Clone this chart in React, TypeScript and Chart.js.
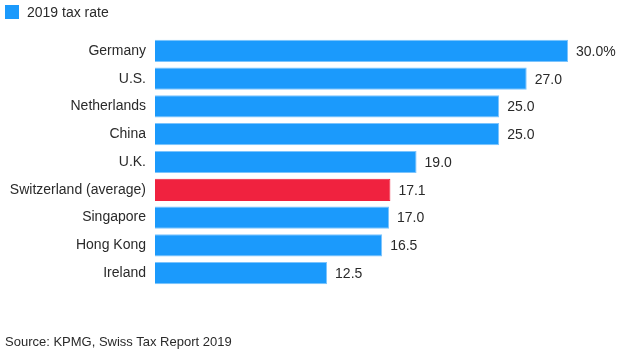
import React, { useEffect, useRef } from "react";
import { Chart, registerables } from "chart.js";

Chart.register(...registerables);

const categories = ["Germany", "U.S.", "Netherlands", "China", "U.K.", "Switzerland (average)", "Singapore", "Hong Kong", "Ireland"];
const taxRates = [30.0, 27.0, 25.0, 25.0, 19.0, 17.1, 17.0, 16.5, 12.5];
const highlighted = "Switzerland (average)";
const seriesName = "2019 tax rate";
const sourceText = "Source: KPMG, Swiss Tax Report 2019";

const BLUE = "#1b9afc";
const BLUE_EDGE = "#7cc4fd";
const RED = "#f0223f";
const FONT = "'Liberation Sans', Arial, sans-serif";

const valueLabels = {
  id: "valueLabels",
  afterDatasetsDraw(chart: any) {
    const ctx = chart.ctx;
    const meta = chart.getDatasetMeta(0);
    ctx.save();
    ctx.font = `14px ${FONT}`;
    ctx.fillStyle = "#2a2a2a";
    ctx.textBaseline = "middle";
    ctx.textAlign = "left";
    meta.data.forEach((bar: any, i: number) => {
      const v = taxRates[i];
      const txt = v.toFixed(1) + (i === 0 ? "%" : "");
      ctx.fillText(txt, bar.x + 8, bar.y + 1);
    });
    ctx.restore();
  },
};

export default function App() {
  const ref = useRef<HTMLCanvasElement>(null);
  useEffect(() => {
    if (!ref.current) return;
    const chart = new Chart(ref.current, {
      type: "bar",
      data: {
        labels: categories,
        datasets: [
          {
            label: seriesName,
            data: taxRates,
            backgroundColor: categories.map((c) => (c === highlighted ? RED : BLUE)),
            borderColor: categories.map((c) => (c === highlighted ? RED : BLUE_EDGE)),
            borderWidth: 1,
            barPercentage: 0.8,
            categoryPercentage: 1,
          },
        ],
      },
      options: {
        indexAxis: "y",
        animation: false,
        responsive: false,
        maintainAspectRatio: false,
        layout: { padding: { top: 37, bottom: 73, left: 0, right: 55 } },
        plugins: { legend: { display: false }, tooltip: { enabled: false } },
        scales: {
          x: { display: false, min: 0, max: 30 },
          y: {
            grid: { display: false, drawTicks: false },
            border: { display: false },
            ticks: { color: "#2a2a2a", font: { size: 14, family: FONT }, padding: 9 },
            afterFit(scale: any) {
              scale.width = 155;
            },
          },
        },
      },
      plugins: [valueLabels],
    });
    return () => chart.destroy();
  }, []);

  return (
    <div style={{ position: "absolute", left: 0, top: 0, width: 623, height: 360, background: "#fff", fontFamily: FONT }}>
      <canvas ref={ref} width={623} height={360} style={{ position: "absolute", left: 0, top: 0 }} />
      <div style={{ position: "absolute", left: 5, top: 4, display: "flex", alignItems: "center", fontSize: 14, color: "#2a2a2a" }}>
        <span style={{ display: "inline-block", width: 14, height: 14, background: BLUE, marginRight: 8 }} />
        <span>{seriesName}</span>
      </div>
      <div style={{ position: "absolute", left: 5, top: 334, fontSize: 13, color: "#2a2a2a" }}>{sourceText}</div>
    </div>
  );
}
